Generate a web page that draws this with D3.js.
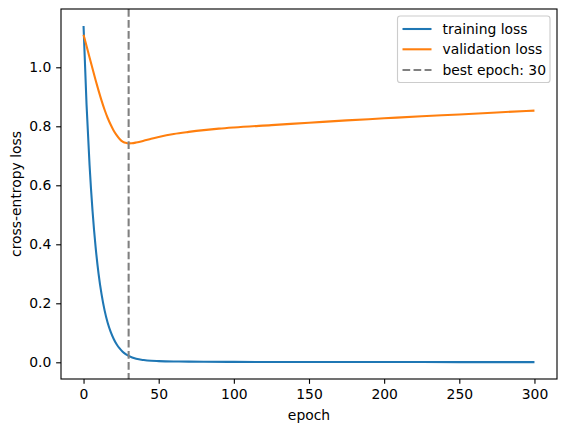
<!DOCTYPE html>
<html>
<head>
<meta charset="utf-8">
<script src="https://cdn.jsdelivr.net/npm/d3@7"></script>
<style>
html,body{margin:0;padding:0;background:#fff;}
svg{display:block;font-family:"DejaVu Sans",sans-serif;}
</style>
</head>
<body>
<svg id="chart" width="567" height="432"></svg>
<script>
// ---- data ----
const trainEpochs = [0,2,4,6,8,10,12,14,16,18,20,22,24,26,28,30,35,40,45,50,60,70,80,100,150,200,250,300];
const trainLoss   = [1.14,0.873,0.669,0.512,0.392,0.300,0.230,0.176,0.135,0.104,0.080,0.061,0.047,0.036,0.028,0.022,0.012,0.0075,0.005,0.004,0.0028,0.0022,0.0018,0.0014,0.001,0.0008,0.0007,0.0006];
const valEpochs = [0,2,4,6,8,10,12,14,16,18,20,22,24,26,28,30,32,35,40,45,50,60,70,80,90,100,125,150,175,200,225,250,275,300];
const valLoss   = [1.11,1.072,1.033,0.995,0.957,0.921,0.887,0.856,0.829,0.806,0.786,0.770,0.757,0.748,0.744,0.742,0.7425,0.745,0.751,0.758,0.764,0.774,0.781,0.787,0.792,0.796,0.804,0.812,0.820,0.827,0.834,0.840,0.847,0.853];
const bestEpoch = 30;
const xTicks = [0,50,100,150,200,250,300];
const yTicks = [0.0,0.2,0.4,0.6,0.8,1.0];
const legendLabels = ["training loss","validation loss","best epoch: " + bestEpoch];
const colors = ["#1f77b4","#ff7f0e","#808080"];

// ---- layout ----
const svg = d3.select("#chart");
const L = 61, R = 557, T = 9, B = 379;
const fs = 13.9;
const lw = 2.08, dash = "7.7,3.33";
const x = d3.scaleLinear().domain([-15, 315]).range([L, R]);
const y = d3.scaleLinear().domain([-0.0566, 1.1976]).range([B, T]);

svg.append("defs").append("clipPath").attr("id","clip")
  .append("rect").attr("x",L).attr("y",T).attr("width",R-L).attr("height",B-T);

const line = d3.line().x(d=>x(d[0])).y(d=>y(d[1])).curve(d3.curveMonotoneX);
const g = svg.append("g").attr("clip-path","url(#clip)");
g.append("path").datum(trainEpochs.map((e,i)=>[e,trainLoss[i]]))
  .attr("d",line).attr("fill","none").attr("stroke",colors[0]).attr("stroke-width",lw);
g.append("path").datum(valEpochs.map((e,i)=>[e,valLoss[i]]))
  .attr("d",line).attr("fill","none").attr("stroke",colors[1]).attr("stroke-width",lw);
g.append("line").attr("x1",x(bestEpoch)).attr("x2",x(bestEpoch)).attr("y1",T).attr("y2",B)
  .attr("stroke",colors[2]).attr("stroke-width",lw).attr("stroke-dasharray",dash);

// axes
const xAxis = d3.axisBottom(x).tickValues(xTicks).tickSize(4.86).tickPadding(4.86).tickFormat(d3.format("d"));
const yAxis = d3.axisLeft(y).tickValues(yTicks).tickSize(4.86).tickPadding(4.86).tickFormat(d3.format(".1f"));
const gx = svg.append("g").attr("transform",`translate(0,${B})`).call(xAxis);
const gy = svg.append("g").attr("transform",`translate(${L},0)`).call(yAxis);
[gx,gy].forEach(a=>{
  a.select(".domain").remove();
  a.selectAll(".tick line").attr("stroke","#000").attr("stroke-width",1.11);
  a.selectAll(".tick text").attr("font-size",fs).attr("fill","#000").attr("font-family","DejaVu Sans");
});
// frame
svg.append("rect").attr("x",L).attr("y",T).attr("width",R-L).attr("height",B-T)
  .attr("fill","none").attr("stroke","#000").attr("stroke-width",1.11);

// labels
svg.append("text").attr("x",(L+R)/2).attr("y",420).attr("text-anchor","middle")
  .attr("font-size",fs).text("epoch");
svg.append("text").attr("transform",`translate(21,${(T+B)/2}) rotate(-90)`).attr("text-anchor","middle")
  .attr("font-size",fs).text("cross-entropy loss");

// legend
const lg = svg.append("g");
lg.append("rect").attr("x",397.5).attr("y",16).attr("width",152.5).attr("height",66.5)
  .attr("rx",2.8).attr("fill","#fff").attr("fill-opacity",0.8).attr("stroke","#cccccc").attr("stroke-width",1.11);
const rows = [29,49.3,70];
legendLabels.forEach((lab,i)=>{
  lg.append("line").attr("x1",402.5).attr("x2",431.5).attr("y1",rows[i]).attr("y2",rows[i])
    .attr("stroke",colors[i]).attr("stroke-width",lw)
    .attr("stroke-dasharray", i===2 ? dash : null);
  lg.append("text").attr("x",442.5).attr("y",rows[i]).attr("dy","0.35em")
    .attr("font-size",fs).text(lab);
});
</script>
</body>
</html>
